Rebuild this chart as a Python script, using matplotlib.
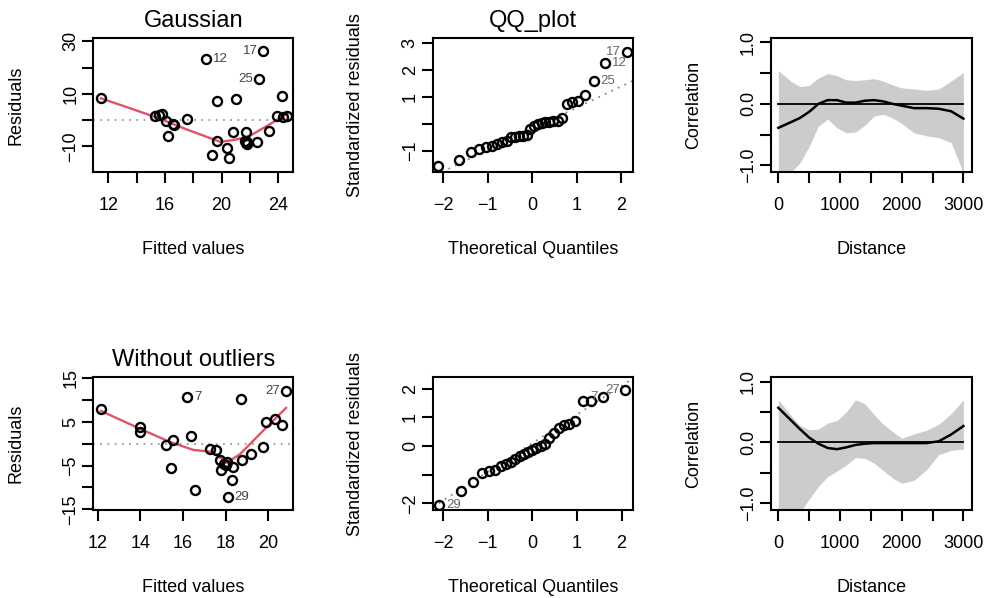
import numpy as np
import matplotlib
matplotlib.use("Agg")
import matplotlib.pyplot as plt

plt.rcParams['font.family'] = ['Liberation Sans', 'DejaVu Sans']

# ---- Gaussian model: residuals vs fitted
fit_g = [11.48, 18.92, 22.94, 22.63, 15.31, 15.78, 16.09, 16.65, 16.25, 17.57,
         19.70, 21.04, 19.70, 19.30, 20.40, 20.50, 20.80, 21.69, 21.62, 21.76,
         21.70, 22.47, 23.34, 23.88, 24.26, 24.30, 24.62, 15.60, 21.80, 16.60]
res_g = [8.3, 23.2, 26.2, 15.6, 1.5, 2.5, -0.3, -2.0, -6.2, 0.6,
         7.4, 8.0, -8.0, -13.2, -10.6, -14.6, -4.7, -4.6, -8.1, -9.0,
         -8.6, -8.4, -4.2, 1.5, 9.0, 1.0, 1.6, 1.9, -8.4, -1.6]
smooth_g_x = [11.48, 13.5, 15.3, 17.5, 19.9, 20.85, 21.9, 23.2, 24.64]
smooth_g_y = [8.3, 4.6, 1.2, -3.5, -8.3, -7.6, -6.3, -2.2, 2.5]
lab_g = [("12", 18.92, 23.2, "r"), ("17", 22.94, 26.2, "l"), ("25", 22.63, 15.6, "l")]

# ---- Gaussian model: QQ plot
qq_g_x = [-2.128, -1.645, -1.383, -1.192, -1.036, -0.903, -0.783, -0.674, -0.573, -0.477,
          -0.385, -0.297, -0.210, -0.126, -0.042, 0.042, 0.126, 0.210, 0.297, 0.385,
          0.477, 0.573, 0.674, 0.783, 0.903, 1.036, 1.192, 1.383, 1.645, 2.128]
qq_g_y = [-1.57, -1.33, -1.05, -0.93, -0.86, -0.80, -0.74, -0.68, -0.62, -0.50,
          -0.47, -0.46, -0.45, -0.40, -0.18, -0.06, 0.00, 0.04, 0.06, 0.09,
          0.11, 0.13, 0.21, 0.74, 0.80, 0.86, 1.07, 1.60, 2.28, 2.68]
qqline_g = (-0.18, 0.787)
lab_qq_g = [("17", 2.128, 2.68, "l"), ("12", 1.645, 2.28, "r"), ("25", 1.383, 1.60, "r")]

# ---- Gaussian model: correlogram
dist = [0, 200, 350, 500, 650, 800, 950, 1100, 1250, 1400,
        1550, 1700, 1850, 2000, 2200, 2400, 2600, 2800, 3000]
cor_g = [-0.39, -0.30, -0.23, -0.13, 0.00, 0.06, 0.06, 0.02, 0.02, 0.05,
         0.06, 0.04, 0.00, -0.03, -0.07, -0.07, -0.08, -0.12, -0.24]
cor_g_hi = [0.54, 0.37, 0.28, 0.30, 0.42, 0.49, 0.46, 0.39, 0.38, 0.39,
            0.41, 0.37, 0.31, 0.26, 0.24, 0.22, 0.24, 0.37, 0.51]
cor_g_lo = [-1.20, -1.12, -0.96, -0.69, -0.36, -0.25, -0.39, -0.47, -0.46, -0.35,
            -0.20, -0.17, -0.23, -0.32, -0.47, -0.52, -0.55, -0.63, -1.12]

# ---- Without outliers: residuals vs fitted
fit_w = [12.16, 14.00, 14.00, 15.19, 15.55, 15.44, 16.20, 16.36, 16.56, 17.27,
         17.55, 17.73, 17.80, 18.05, 18.36, 18.28, 18.09, 18.70, 18.75, 19.17,
         19.77, 19.88, 20.31, 20.63, 20.81, 17.92, 18.00]
res_w = [7.9, 3.8, 2.8, -0.2, 0.8, -5.5, 10.8, 1.8, -10.5, -1.1,
         -1.5, -3.8, -6.0, -4.2, -5.3, -8.4, -12.2, 10.3, -3.8, -2.3,
         -0.8, 5.0, 5.7, 4.4, 12.1, -4.6, -4.8]
smooth_w_x = [12.16, 14.0, 15.4, 16.48, 17.42, 18.05, 18.67, 19.77, 20.83]
smooth_w_y = [7.5, 3.4, 0.4, -1.4, -1.9, -4.35, -2.4, 3.05, 8.2]
lab_w = [("7", 16.20, 10.8, "r"), ("27", 20.81, 12.1, "l"), ("29", 18.09, -12.2, "r")]

# ---- Without outliers: QQ plot
qq_w_x = [-2.086, -1.593, -1.325, -1.128, -0.967, -0.829, -0.704, -0.589, -0.482,
          -0.380, -0.282, -0.187, -0.093, 0.0, 0.093, 0.187, 0.282, 0.380,
          0.482, 0.589, 0.704, 0.829, 0.967, 1.128, 1.325, 1.593, 2.086]
qq_w_y = [-2.04, -1.57, -1.27, -0.93, -0.87, -0.82, -0.70, -0.62, -0.57,
          -0.45, -0.33, -0.27, -0.22, -0.14, -0.08, 0.00, 0.09, 0.27,
          0.45, 0.62, 0.73, 0.78, 0.87, 1.57, 1.58, 1.72, 1.94]
qqline_w = (0.10, 1.0)
lab_qq_w = [("29", -2.086, -2.04, "r"), ("7", 1.593, 1.72, "l"), ("27", 2.086, 1.94, "l")]

# ---- Without outliers: correlogram
cor_w = [0.57, 0.37, 0.22, 0.08, -0.02, -0.09, -0.11, -0.08, -0.04, -0.02,
         -0.01, -0.01, -0.01, -0.01, -0.01, -0.01, 0.02, 0.13, 0.27]
cor_w_hi = [0.70, 0.45, 0.28, 0.21, 0.22, 0.32, 0.36, 0.50, 0.70, 0.64,
            0.46, 0.30, 0.18, 0.07, 0.14, 0.20, 0.30, 0.47, 0.70]
cor_w_lo = [-1.20, -1.20, -1.15, -0.93, -0.72, -0.56, -0.47, -0.37, -0.25, -0.26,
            -0.34, -0.46, -0.58, -0.67, -0.62, -0.45, -0.20, -0.13, -0.11]

FS = 13
RED = '#DF536B'
PX = 0.72  # points per pixel at dpi 100


def style_axis(ax, xlim, ylim, xticks, xlabels, yticks, ylabels):
    ax.set_xlim(xlim)
    ax.set_ylim(ylim)
    for s in ax.spines.values():
        s.set_linewidth(1.5)
    ax.set_xticks(xticks)
    ax.set_xticklabels(xlabels)
    ax.set_yticks(yticks)
    ax.set_yticklabels(ylabels)
    ax.tick_params(axis='both', direction='out', length=8, width=1.5, labelsize=FS)
    ax.tick_params(axis='x', pad=10)
    ax.tick_params(axis='y', pad=2, labelrotation=90)
    for t in ax.get_yticklabels():
        t.set_va('center')


def add_labels(ax, xlabel, ylabel, title=None):
    ax.annotate(xlabel, xy=(0.5, 0), xycoords='axes fraction', xytext=(0, -77 * PX),
                textcoords='offset points', ha='center', va='center', fontsize=FS)
    ax.annotate(ylabel, xy=(0, 0.5), xycoords='axes fraction', xytext=(-77 * PX, 0),
                textcoords='offset points', ha='center', va='center', fontsize=FS, rotation=90)
    if title:
        ax.annotate(title, xy=(0.5, 1), xycoords='axes fraction', xytext=(0, 17 * PX),
                    textcoords='offset points', ha='center', va='center', fontsize=17)


def point_labels(ax, labels, color='#444444'):
    for txt, x, y, side in labels:
        if side == "r":
            ax.annotate(txt, xy=(x, y), xytext=(5, 0), textcoords='offset points',
                        ha='left', va='center', fontsize=9.5, color=color)
        else:
            ax.annotate(txt, xy=(x, y), xytext=(-4, 0), textcoords='offset points',
                        ha='right', va='center', fontsize=9.5, color=color)


def circles(ax, x, y):
    ax.plot(x, y, 'o', ms=6.5, mfc='none', mec='black', mew=1.7, zorder=3)


def resid_panel(ax, fit, res, sx, sy, labels):
    ax.axhline(0, color='#999999', lw=1.3, ls=(0, (1, 3)), zorder=1)
    ax.plot(sx, sy, color=RED, lw=1.7, zorder=2)
    circles(ax, fit, res)
    point_labels(ax, labels)


def qq_panel(ax, qx, qy, line, labels):
    ax.axline((0, line[0]), slope=line[1], color='#888888', lw=1.3, ls=(0, (1, 3)), zorder=1)
    circles(ax, qx, qy)
    point_labels(ax, labels, color='#666666')


def cor_panel(ax, d, c, lo, hi):
    ax.fill_between(d, lo, hi, color='#CCCCCC', lw=0, zorder=1)
    ax.plot([d[0], d[-1]], [0, 0], color='black', lw=1.3, zorder=2)
    ax.plot(d, c, color='black', lw=1.8, zorder=3)


fig = plt.figure(figsize=(9.87, 5.98), dpi=100)
W, H = 987.0, 598.0
lefts = [93.3, 432.7, 771.0]
widths = [200.0, 200.0, 200.7]
tops = [38.0, 377.3]
bottoms = [172.0, 510.0]
axes = []
for r in range(2):
    row = []
    for c in range(3):
        row.append(fig.add_axes([lefts[c] / W, 1 - bottoms[r] / H, widths[c] / W,
                                 (bottoms[r] - tops[r]) / H]))
    axes.append(row)

# top row
ax = axes[0][0]
resid_panel(ax, fit_g, res_g, smooth_g_x, smooth_g_y, lab_g)
style_axis(ax, (10.95, 25.05), (-19.8, 31.3),
           [12, 14, 16, 18, 20, 22, 24], ['12', '', '16', '', '20', '', '24'],
           [-10, 0, 10, 20, 30], ['\u221210', '', '10', '', '30'])
add_labels(ax, 'Fitted values', 'Residuals', 'Gaussian')

ax = axes[0][1]
qq_panel(ax, qq_g_x, qq_g_y, qqline_g, lab_qq_g)
style_axis(ax, (-2.24, 2.26), (-1.78, 3.19),
           [-2, -1, 0, 1, 2], ['\u22122', '\u22121', '0', '1', '2'],
           [-1, 0, 1, 2, 3], ['\u22121', '', '1', '2', '3'])
add_labels(ax, 'Theoretical Quantiles', 'Standardized residuals', 'QQ_plot')

ax = axes[0][2]
cor_panel(ax, dist, cor_g, cor_g_lo, cor_g_hi)
style_axis(ax, (-119, 3135), (-1.108, 1.07),
           [0, 500, 1000, 1500, 2000, 2500, 3000], ['0', '', '1000', '', '2000', '', '3000'],
           [-1, -0.5, 0, 0.5, 1], ['\u22121.0', '', '0.0', '', '1.0'])
add_labels(ax, 'Distance', 'Correlation')

# bottom row
ax = axes[1][0]
resid_panel(ax, fit_w, res_w, smooth_w_x, smooth_w_y, lab_w)
style_axis(ax, (11.8, 21.17), (-15.15, 15.2),
           [12, 14, 16, 18, 20], ['12', '14', '16', '18', '20'],
           [-15, -10, -5, 0, 5, 10, 15], ['\u221215', '', '\u22125', '', '5', '', '15'])
add_labels(ax, 'Fitted values', 'Residuals', 'Without outliers')

ax = axes[1][1]
qq_panel(ax, qq_w_x, qq_w_y, qqline_w, lab_qq_w)
style_axis(ax, (-2.23, 2.25), (-2.23, 2.4),
           [-2, -1, 0, 1, 2], ['\u22122', '\u22121', '0', '1', '2'],
           [-2, -1, 0, 1, 2], ['\u22122', '', '0', '1', '2'])
add_labels(ax, 'Theoretical Quantiles', 'Standardized residuals')

ax = axes[1][2]
cor_panel(ax, dist, cor_w, cor_w_lo, cor_w_hi)
style_axis(ax, (-119, 3135), (-1.108, 1.07),
           [0, 500, 1000, 1500, 2000, 2500, 3000], ['0', '', '1000', '', '2000', '', '3000'],
           [-1, -0.5, 0, 0.5, 1], ['\u22121.0', '', '0.0', '', '1.0'])
add_labels(ax, 'Distance', 'Correlation')

fig.savefig('out.png', dpi=100)
